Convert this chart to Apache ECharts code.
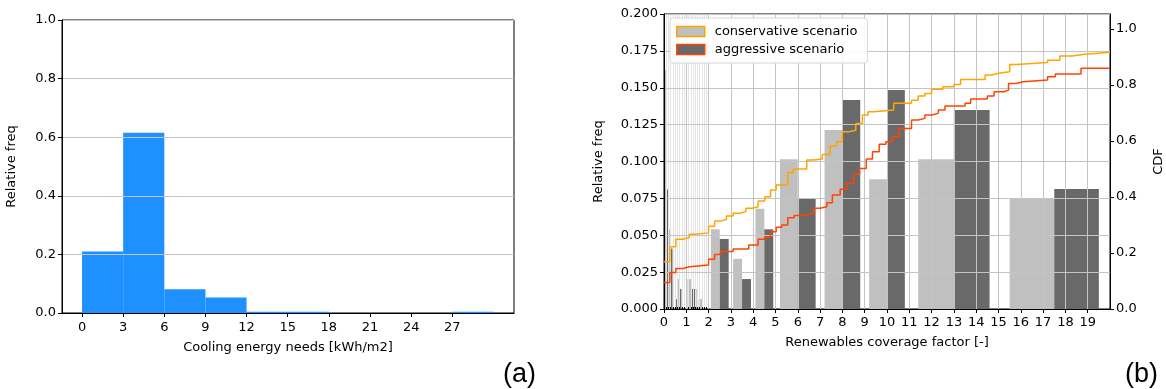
<!DOCTYPE html>
<html>
<head>
<meta charset="utf-8">
<title>Cooling needs and renewables coverage</title>
<script src="https://cdn.jsdelivr.net/npm/echarts@6/dist/echarts.min.js"></script>
<style>
  html, body { margin: 0; padding: 0; background: #fff; }
  #chart { width: 1166px; height: 389px; }
</style>
</head>
<body>
<div id="chart"></div>
<script>
// (a) cooling energy needs histogram
const coolEdges = [0, 3, 6, 9, 12, 15, 18, 21, 24, 27, 30];
const coolFreq = [0.21, 0.615, 0.081, 0.053, 0.004, 0.004, 0, 0, 0, 0.004];
const coolTicks = [0, 3, 6, 9, 12, 15, 18, 21, 24, 27];

// (b) renewables coverage factor histograms + CDFs
const rcfEdges = [0, 0.2, 0.4, 0.6, 0.8, 1.0, 1.5, 2, 3, 4, 5, 7, 9, 11, 15, 20];
const consFreq = [0.162, 0.054, 0, 0.0203, 0, 0.0203, 0.0068, 0.054, 0.034, 0.068, 0.1015, 0.1214, 0.088, 0.1015, 0.075];
const aggrFreq = [0.081, 0.041, 0.0068, 0.0136, 0, 0.0136, 0, 0.0475, 0.0203, 0.054, 0.0746, 0.1417, 0.1485, 0.135, 0.0814];
const consCdf = [
  [0, 0.169], [0.26, 0.222], [0.53, 0.249], [0.85, 0.256], [1.14, 0.267], [1.4, 0.272],
  [2.0, 0.296], [2.27, 0.314], [2.53, 0.32], [2.8, 0.332], [3.1, 0.342], [3.4, 0.348],
  [3.67, 0.36], [3.96, 0.365], [4.22, 0.386], [4.52, 0.401], [4.78, 0.425], [5.03, 0.443],
  [5.55, 0.488], [5.8, 0.5], [6.4, 0.532], [6.7, 0.536], [7.1, 0.552], [7.45, 0.582],
  [7.75, 0.598], [8.0, 0.633], [8.3, 0.639], [8.6, 0.663], [8.9, 0.693], [9.15, 0.705],
  [9.4, 0.711], [10.3, 0.735], [11.1, 0.746], [11.4, 0.761], [11.7, 0.77], [12.0, 0.785],
  [12.5, 0.794], [13.0, 0.802], [13.3, 0.82], [14.4, 0.836], [14.7, 0.842], [15.0, 0.848],
  [15.5, 0.874], [15.8, 0.881], [17.2, 0.889], [17.75, 0.904], [18.3, 0.91], [18.87, 0.917],
  [20, 0.917]
];
const aggrCdf = [
  [0, 0.095], [0.26, 0.13], [0.53, 0.145], [0.85, 0.151], [1.14, 0.157], [2.0, 0.1775],
  [2.27, 0.195], [2.53, 0.205], [3.1, 0.214], [3.8, 0.229], [4.22, 0.249], [4.52, 0.258],
  [4.78, 0.276], [5.03, 0.292], [5.28, 0.3], [5.55, 0.326], [5.84, 0.334], [6.0, 0.339],
  [6.7, 0.36], [7.0, 0.365], [7.3, 0.38], [7.55, 0.407], [7.9, 0.4275], [8.2, 0.449],
  [8.5, 0.481], [8.77, 0.502], [9.07, 0.536], [9.35, 0.562], [9.65, 0.589], [9.95, 0.598],
  [10.24, 0.615], [10.53, 0.645], [11.1, 0.675], [11.4, 0.681], [11.7, 0.693], [12.0, 0.699],
  [12.3, 0.711], [12.6, 0.725], [13.5, 0.735], [13.75, 0.75], [14.5, 0.761], [14.8, 0.776],
  [15.25, 0.782], [15.45, 0.806], [15.8, 0.812], [16.1, 0.818], [17.2, 0.83], [17.55, 0.84],
  [18.7, 0.86], [20, 0.86]
];
const rcfMinor = [0.1, 0.2, 0.3, 0.4, 0.5, 0.6, 0.7, 0.8, 0.9, 1.1, 1.2, 1.3, 1.4, 1.5, 1.6, 1.7, 1.8, 1.9];

const FONT = 'DejaVu Sans';
const LIGHT = '#c0c0c0', DARK = '#696969', ORANGE = '#ffa500', RED = '#ff4500', GRIDC = '#c4c4c4';

function binData(edges, freq) {
  return freq.map((v, i) => [edges[i], edges[i + 1], v]);
}

// offset/frac: position of the bar inside its bin, as a fraction of the bin width
function histRender(offset, frac) {
  return function (params, api) {
    const x0 = api.value(0), x1 = api.value(1), v = api.value(2);
    const w = x1 - x0;
    const a = api.coord([x0 + offset * w, v]);
    const b = api.coord([x0 + (offset + frac) * w, 0]);
    return {
      type: 'rect',
      shape: { x: a[0], y: a[1], width: b[0] - a[0], height: b[1] - a[1] },
      style: { fill: api.visual('color') }
    };
  };
}

const axisLine = { onZero: false, lineStyle: { color: '#000', width: 1 } };
const axisTick = { length: 4, lineStyle: { color: '#000' } };
const label = { color: '#000', fontFamily: FONT, fontSize: 13 };
const nameStyle = { color: '#000', fontFamily: FONT, fontSize: 13 };

const chart = echarts.init(document.getElementById('chart'));
chart.setOption({
  animation: false,
  textStyle: { fontFamily: FONT },
  grid: [
    { left: 62, top: 20, width: 452, height: 293, show: true, borderColor: '#000', borderWidth: 1 },
    { left: 664, top: 14, width: 454, height: 295, show: true, borderColor: '#000', borderWidth: 1 }
  ],
  legend: {
    left: 670, top: 18, orient: 'vertical', z: 20,
    padding: [7, 10, 7, 6], itemGap: 5, itemWidth: 28, itemHeight: 10,
    backgroundColor: 'rgba(255,255,255,0.9)', borderColor: '#d6d6d6', borderWidth: 1, borderRadius: 3,
    textStyle: { color: '#000', fontFamily: FONT, fontSize: 13, padding: [0, 0, 0, 5] },
    data: [
      { name: 'conservative scenario', icon: 'rect', itemStyle: { color: LIGHT, borderColor: ORANGE, borderWidth: 1.5 } },
      { name: 'aggressive scenario', icon: 'rect', itemStyle: { color: DARK, borderColor: RED, borderWidth: 1.5 } }
    ]
  },
  graphic: [
    { type: 'text', left: 503, top: 361, style: { text: '(a)', font: '27px "Liberation Sans"', fill: '#000' } },
    { type: 'text', left: 1125, top: 361, style: { text: '(b)', font: '27px "Liberation Sans"', fill: '#000' } }
  ],
  xAxis: [
    {
      type: 'value', gridIndex: 0, min: -1.46, max: 31.5, z: 5,
      axisLine, axisTick: Object.assign({ customValues: coolTicks }, axisTick),
      axisLabel: Object.assign({ customValues: coolTicks, margin: 8 }, label),
      splitLine: { show: false },
      name: 'Cooling energy needs [kWh/m2]', nameLocation: 'middle', nameGap: 28, nameTextStyle: nameStyle
    },
    {
      type: 'value', gridIndex: 1, min: 0, max: 20, interval: 1, z: 5,
      axisLine, axisTick,
      axisLabel: Object.assign({ showMaxLabel: false, margin: 7 }, label),
      splitLine: { show: true, lineStyle: { color: GRIDC, width: 1 } },
      name: 'Renewables coverage factor [-]', nameLocation: 'middle', nameGap: 27, nameTextStyle: nameStyle
    },
    {
      // minor ticks / grid lines between 0 and 2
      type: 'value', gridIndex: 1, min: 0, max: 20, z: 4,
      axisLine: { show: false },
      axisTick: { customValues: rcfMinor, length: 2, lineStyle: { color: '#000' } },
      axisLabel: { show: false },
      splitLine: { show: true, lineStyle: { color: '#e4e4e4', width: 1 } }
    }
  ],
  yAxis: [
    {
      type: 'value', gridIndex: 0, min: 0, max: 1, interval: 0.2, z: 5,
      axisLine, axisTick,
      axisLabel: Object.assign({ formatter: v => v.toFixed(1), margin: 6 }, label),
      splitLine: { show: true, lineStyle: { color: GRIDC, width: 1 } },
      name: 'Relative freq', nameLocation: 'middle', nameGap: 44, nameRotate: 90, nameTextStyle: nameStyle
    },
    {
      type: 'value', gridIndex: 1, min: 0, max: 0.2, interval: 0.025, z: 5,
      axisLine, axisTick,
      axisLabel: Object.assign({ formatter: v => v.toFixed(3), margin: 6 }, label),
      splitLine: { show: true, lineStyle: { color: GRIDC, width: 1 } },
      name: 'Relative freq', nameLocation: 'middle', nameGap: 59, nameRotate: 90, nameTextStyle: nameStyle
    },
    {
      type: 'value', gridIndex: 1, position: 'right', min: 0, max: 1.054, interval: 0.2, z: 5,
      axisLine, axisTick,
      axisLabel: Object.assign({ formatter: v => (v > 1.001 ? '' : v.toFixed(1)), showMaxLabel: false, margin: 6 }, label),
      splitLine: { show: false },
      name: 'CDF', nameLocation: 'middle', nameGap: 42, nameRotate: 90, nameTextStyle: nameStyle
    }
  ],
  series: [
    {
      name: 'cooling', type: 'custom', xAxisIndex: 0, yAxisIndex: 0, z: 1,
      itemStyle: { color: '#1e90ff' },
      encode: { x: [0, 1], y: 2 },
      renderItem: histRender(0, 1),
      data: binData(coolEdges, coolFreq)
    },
    {
      name: 'conservative scenario', type: 'custom', xAxisIndex: 1, yAxisIndex: 1, z: 2,
      itemStyle: { color: LIGHT },
      encode: { x: [0, 1], y: 2 },
      renderItem: histRender(0.1, 0.4),
      data: binData(rcfEdges, consFreq)
    },
    {
      name: 'aggressive scenario', type: 'custom', xAxisIndex: 1, yAxisIndex: 1, z: 2,
      itemStyle: { color: DARK },
      encode: { x: [0, 1], y: 2 },
      renderItem: histRender(0.5, 0.4),
      data: binData(rcfEdges, aggrFreq)
    },
    {
      name: 'conservative scenario', type: 'line', xAxisIndex: 1, yAxisIndex: 2, z: 10,
      step: 'end', showSymbol: false, symbol: 'none',
      lineStyle: { color: ORANGE, width: 1.5 }, itemStyle: { color: LIGHT },
      data: consCdf
    },
    {
      name: 'aggressive scenario', type: 'line', xAxisIndex: 1, yAxisIndex: 2, z: 10,
      step: 'end', showSymbol: false, symbol: 'none',
      lineStyle: { color: RED, width: 1.5 }, itemStyle: { color: DARK },
      data: aggrCdf
    }
  ]
});
</script>
</body>
</html>
